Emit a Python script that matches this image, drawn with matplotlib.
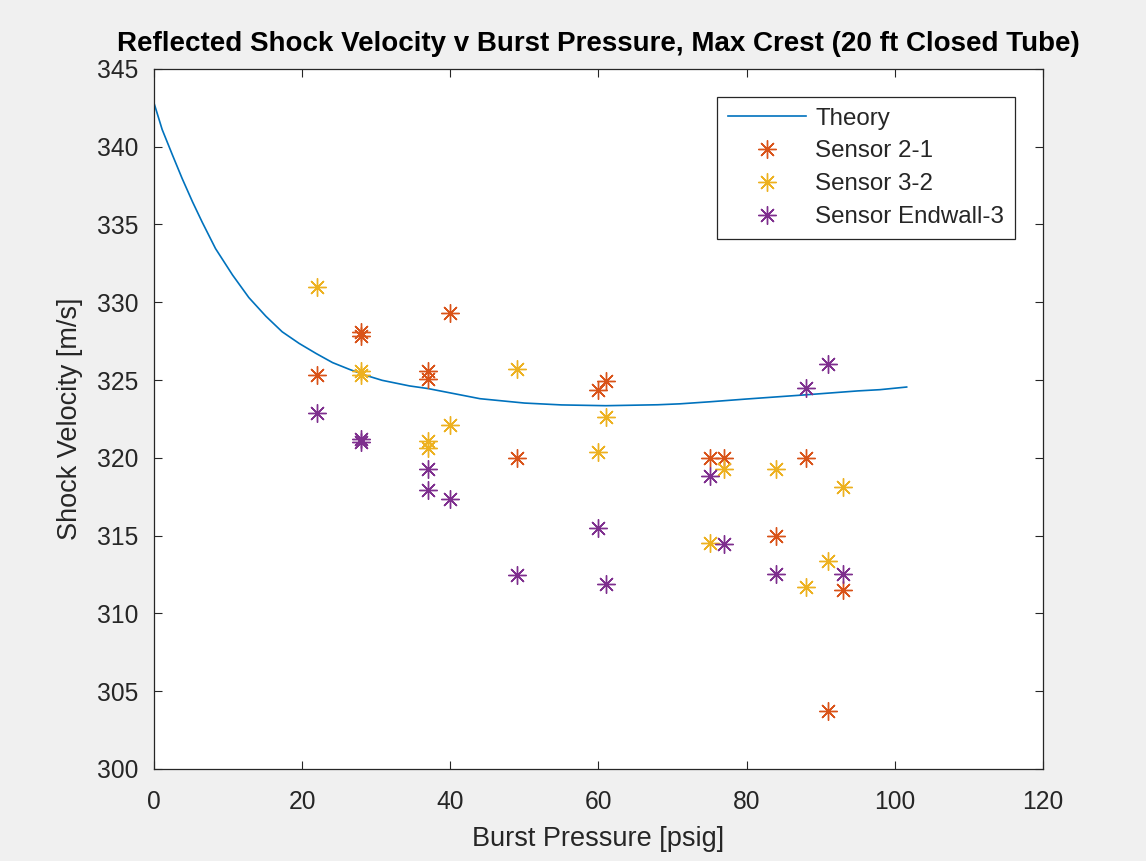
"""
Reflected shock velocity vs burst pressure (MATLAB style figure)
"""
import matplotlib

matplotlib.use("Agg")
import matplotlib.pyplot as plt

plt.rcParams['font.family'] = ['Liberation Sans', 'DejaVu Sans']

# theory curve
theory_p = [0, 1.1, 2.5, 3.8, 5.2, 6.5, 8.3, 10.6, 12.8, 15.1, 17.3, 19.6, 21.9, 24.1, 26.4,
            28.6, 30.8, 34.5, 37, 44, 50, 55, 61, 68, 71, 75, 80, 88, 95, 98, 101.6]
theory_v = [342.8, 341.1, 339.45, 337.95, 336.45, 335.15, 333.45, 331.75, 330.3, 329.1, 328.1,
            327.35, 326.7, 326.12, 325.68, 325.3, 324.98, 324.62, 324.45, 323.8, 323.52, 323.4,
            323.35, 323.41, 323.47, 323.6, 323.78, 324.05, 324.3, 324.38, 324.55]

pressure = [22, 28, 28, 37, 37, 40, 49, 60, 61, 75, 77, 84, 88, 91, 93]
sensor_21 = [325.3, 328.1, 327.85, 325.55, 325.05, 329.3, 320.0, 324.35, 324.95,
             320.0, 320.0, 315.0, 320.0, 303.7, 311.5]
sensor_32 = [331.0, 325.6, 325.3, 321.1, 320.6, 322.1, 325.7, 320.35, 322.65,
             314.55, 319.3, 319.3, 311.7, 313.35, 318.15]
sensor_e3 = [322.9, 321.2, 321.0, 319.25, 317.9, 317.35, 312.45, 315.5, 311.9,
             318.85, 314.45, 312.5, 324.5, 326.05, 312.5]

colors = ['#0072BD', '#D95319', '#EDB120', '#7E2F8E']
ink = '#262626'
star = (8, 2, 0)  # 8-armed asterisk like MATLAB '*'

fig = plt.figure(figsize=(11.46, 8.61), dpi=100, facecolor='#f0f0f0')
ax = fig.add_axes([0.1344, 0.1069, 0.7757, 0.8131])

ax.plot(theory_p, theory_v, color=colors[0], lw=1.2, label='Theory')
ax.plot(pressure, sensor_21, ls='none', marker=star, ms=13, mew=1.0, color=colors[1], label='Sensor 2-1')
ax.plot(pressure, sensor_32, ls='none', marker=star, ms=13, mew=1.0, color=colors[2], label='Sensor 3-2')
ax.plot(pressure, sensor_e3, ls='none', marker=star, ms=13, mew=1.0, color=colors[3], label='Sensor Endwall-3')

ax.set_xlim(0, 120)
ax.set_ylim(300, 345)
ax.set_xticks(range(0, 121, 20))
ax.set_yticks(range(300, 346, 5))
ax.tick_params(direction='in', length=6, width=0.8, top=True, right=True,
               labelsize=17.7, colors=ink)
ax.tick_params(axis='x', pad=15)
ax.tick_params(axis='y', pad=11)
for s in ax.spines.values():
    s.set_color(ink)
    s.set_linewidth(0.9)

ax.set_xlabel('Burst Pressure [psig]', fontsize=19.5, color=ink, labelpad=9)
ax.set_ylabel('Shock Velocity [m/s]', fontsize=19.5, color=ink, labelpad=10)
ax.set_title('Reflected Shock Velocity v Burst Pressure, Max Crest (20 ft Closed Tube)',
             fontsize=20, fontweight='bold', color='black', pad=13)

leg = ax.legend(loc='upper right', bbox_to_anchor=(0.8857, 0.8877), bbox_transform=fig.transFigure,
                borderaxespad=0, fancybox=False, framealpha=1, edgecolor=ink, fontsize=17.4,
                handlelength=3.2, labelspacing=0.45, borderpad=0.45, handletextpad=0.4)
leg.get_frame().set_linewidth(0.9)
for t in leg.get_texts():
    t.set_color(ink)

plt.savefig('out.png', dpi=100, facecolor=fig.get_facecolor())
